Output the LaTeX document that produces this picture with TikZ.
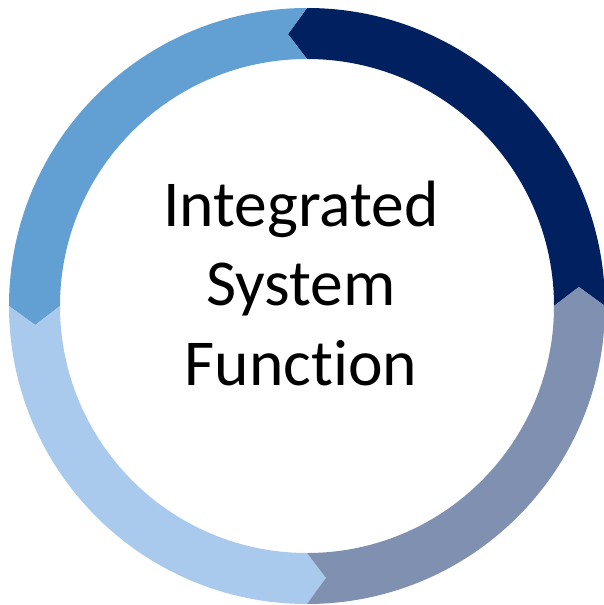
\documentclass[tikz,border=0pt]{standalone}
\usepackage{fontspec}
\setmainfont{Carlito}[Ligatures=NoCommon]
\definecolor{segNavy}{HTML}{002060}
\definecolor{segGrey}{HTML}{8090B0}
\definecolor{segLight}{HTML}{A9CAEC}
\definecolor{segMid}{HTML}{629FD3}
\begin{document}
\begin{tikzpicture}[x=1pt, y=1pt,
% common options for the ring segments:
seg/.style = {fill=#1, draw=none},
% common options for the centre text:
label/.style = {align=center, inner sep=0, font=\fontsize{65.5}{79.5}\selectfont}]
\useasboundingbox (-307,-299) rectangle (297,306);
% each segment runs 90 degrees counter-clockwise, head pointed, tail notched
\foreach \a/\c in {0/segNavy, 90/segMid, 180/segLight, 270/segGrey}{
  \fill[seg=\c] (\a:298) arc[start angle=\a, end angle=\a+90, radius=298]
    -- (\a+94:272.5) -- (\a+90:247)
    arc[start angle=\a+90, end angle=\a, radius=247]
    -- (\a+4:272.5) -- cycle;
}
\node[label] (title) at (-6,23) {Integrated\\System\\Function};
\end{tikzpicture}
\end{document}
